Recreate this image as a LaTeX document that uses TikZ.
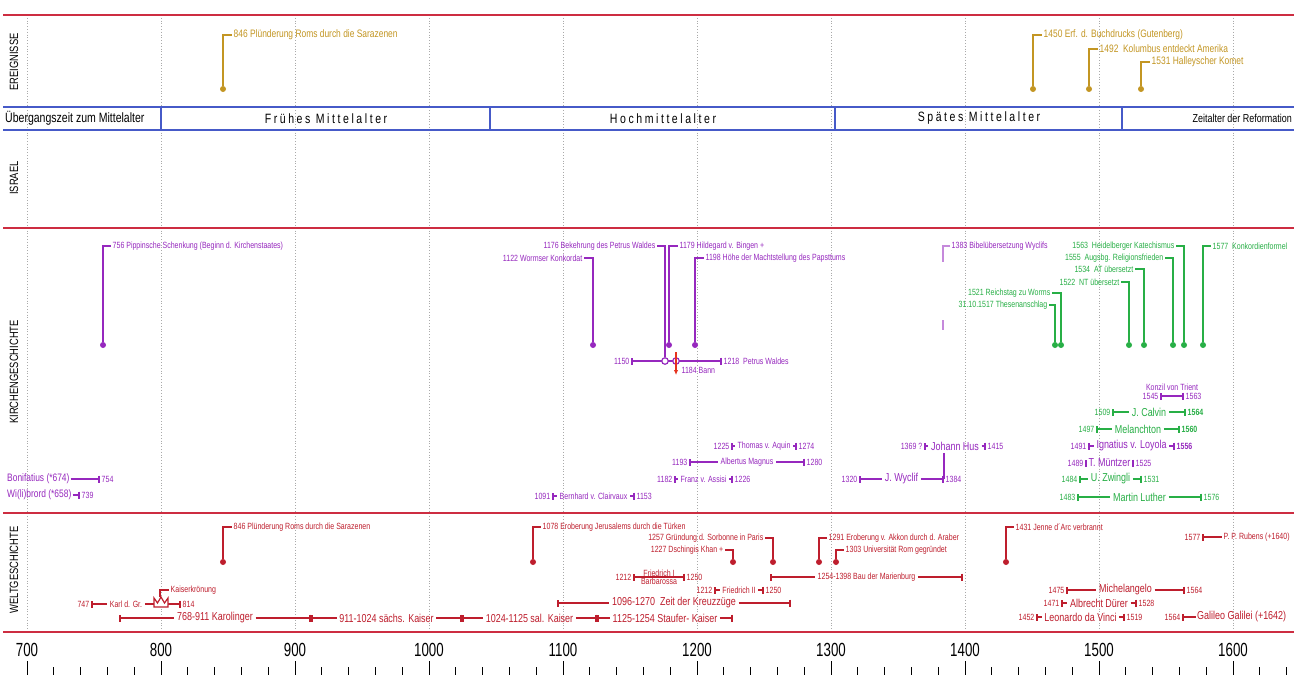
\documentclass[tikz,border=0pt]{standalone}
\usepackage{fontspec}
\setmainfont{Liberation Sans}[FakeStretch=0.78]
\newfontfamily\spacedfont{Liberation Sans}[FakeStretch=0.78, LetterSpace=19]
\newfontfamily\axisfamily{Liberation Sans}
\usetikzlibrary{arrows.meta,calc,positioning}

\definecolor{sepRed}{RGB}{205,45,65}
\definecolor{eraBlue}{RGB}{70,90,200}
\definecolor{gridGray}{RGB}{170,170,170}
\definecolor{eventGold}{RGB}{195,150,35}
\definecolor{churchPurple}{RGB}{150,40,190}
\definecolor{reformGreen}{RGB}{40,175,70}
\definecolor{worldRed}{RGB}{190,30,45}
\definecolor{bannRed}{RGB}{230,50,30}

\newcommand{\tinyfont}{\fontsize{9}{10}\selectfont}
\newcommand{\eventfont}{\fontsize{10.8}{12}\selectfont}
\newcommand{\namefont}{\fontsize{11.5}{13}\selectfont}
\newcommand{\erafont}{\fontsize{13.5}{15}\selectfont}
\newcommand{\sectfont}{\fontsize{12}{13}\selectfont}
\newcommand{\axisfont}{\axisfamily\fontsize{19}{19}\selectfont}

\tikzset{sepline/.style={sepRed, line width=1.5pt}}
\tikzset{eraline/.style={eraBlue, line width=1.5pt}}
\tikzset{gridline/.style={gridGray, dotted, line width=0.8pt}}
\tikzset{section/.style={rotate=90, font=\sectfont}}
\tikzset{era/.style={font=\erafont, inner sep=0pt}}
\tikzset{pin/.style={circle, fill, inner sep=0pt, minimum size=6pt}}
\tikzset{ring/.style={circle, fill=white, line width=1.2pt, inner sep=0pt, minimum size=6.5pt}}
\tikzset{stem/.style={line width=1.8pt}}
\tikzset{pintext/.style={font=\tinyfont, inner sep=1.5pt}}
\tikzset{yr/.style={font=\tinyfont, inner sep=1.5pt}}
\tikzset{who/.style={font=\namefont, inner sep=2.5pt}}
\tikzset{span/.style={line width=1.8pt}}
\tikzset{axisnum/.style={font=\axisfont, inner sep=0pt}}
\tikzset{axistick/.style={line width=0.8pt}}

% id, from x, to x, y, from year, to year, name, colour
\newcommand{\lifespan}[8]{%
  \coordinate (#1-a) at (#2,#4);
  \coordinate (#1-b) at (#3,#4);
  \node[who, #8] (#1) at ($(#1-a)!0.5!(#1-b)$) {#7};
  \draw[span, #8, {Bar[width=7pt]}-] (#1-a) -- (#1);
  \draw[span, #8, -{Bar[width=7pt]}] (#1) -- (#1-b);
  \node[yr, #8, anchor=east] (#1-from) at (#1-a) {#5};
  \node[yr, #8, anchor=west] (#1-to) at (#1-b) {#6};
}
% id, x, dot y, text x, text y, anchor, text, colour
\newcommand{\eventpin}[8]{%
  \node[pin, #8] (#1) at (#2,#3) {};
  \node[pintext, #8, anchor=#6] (#1-l) at (#4,#5) {#7};
  \draw[stem, #8] (#1) |- (#1-l);
}

\begin{document}
\begin{tikzpicture}[x=1pt, y=-1pt]
\useasboundingbox (0,0) rectangle (1308,675);
\fill[white] (0,0) rectangle (1308,675);

% Grid
\foreach \yr in {700,800,...,1600}{
  \pgfmathsetmacro{\gx}{1.34*\yr-911}
  \draw[gridline] (\gx,15) -- (\gx,632);
}

% Bands
\draw[sepline] (3,15) -- (1294,15);
\draw[sepline] (3,228) -- (1294,228);
\draw[sepline] (3,513) -- (1294,513);
\draw[sepline, line width=2.5pt] (3,632) -- (1294,632);
\draw[eraline] (3,107) -- (1294,107);
\draw[eraline] (3,130) -- (1294,130);
\foreach \ex in {161,490,835,1122} \draw[eraline] (\ex,107) -- (\ex,130);

\node[section] (ereignisse) at (14,62) {EREIGNISSE};
\node[section] (israel) at (14,178) {ISRAEL};
\node[section] (kirche) at (14,372) {KIRCHENGESCHICHTE};
\node[section] (welt) at (14,570) {WELTGESCHICHTE};

% Eras
\node[era, anchor=west] (uebergang) at (5,118.5) {Übergangszeit zum Mittelalter};
\node[era] (fruehes) at (326,118.5) {\spacedfont Frühes Mittelalter};
\node[era] (hoch) at (663,118.5) {\spacedfont Hochmittelalter};
\node[era] (spaetes) at (979,118.5) {\spacedfont Spätes Mittelalter};
\node[era, anchor=east, font=\namefont] (reformation) at (1292,118.5) {Zeitalter der Reformation};

% Axis
\foreach \yr in {700,800,...,1600}{
  \pgfmathsetmacro{\gx}{1.34*\yr-911}
  \node[axisnum] (ax\yr) at (\gx,650) {\scalebox{0.7}[1]{\yr}};
  \draw[axistick] (\gx,661) -- (\gx,675);
}
\foreach \yr in {720,740,...,1640}{
  \pgfmathsetmacro{\gx}{1.34*\yr-911}
  \draw[axistick] (\gx,667) -- (\gx,675);
}

% Ereignisse
\eventpin{e846}{223}{89}{232}{35}{west}{846 Plünderung Roms durch die Sarazenen}{eventGold, font=\eventfont}
\eventpin{e1450}{1033}{89}{1042}{35}{west}{1450 Erf. d. Buchdrucks (Gutenberg)}{eventGold, font=\eventfont}
\eventpin{e1492}{1089}{89}{1098}{49}{west}{1492~~Kolumbus entdeckt Amerika}{eventGold, font=\eventfont}
\eventpin{e1531}{1141}{89}{1150}{62}{west}{1531 Halleyscher Komet}{eventGold, font=\eventfont}

% Kirchengeschichte
\eventpin{k756}{103}{345}{111}{246}{west}{756 Pippinsche Schenkung (Beginn d. Kirchenstaates)}{churchPurple}
\eventpin{k1122}{593}{345}{584}{258}{east}{1122 Wormser Konkordat}{churchPurple}
\eventpin{k1179}{669}{345}{678}{246}{west}{1179 Hildegard v. Bingen +}{churchPurple}
\eventpin{k1198}{695}{345}{704}{258}{west}{1198 Höhe der Machtstellung des Papsttums}{churchPurple}

\coordinate (waldes-a) at (631,361);
\coordinate (waldes-b) at (722,361);
\draw[span, churchPurple, {Bar[width=7pt]}-{Bar[width=7pt]}] (waldes-a) -- (waldes-b);
\node[yr, churchPurple, anchor=east] (waldes-from) at (waldes-a) {1150};
\node[yr, churchPurple, anchor=west] (waldes-to) at (waldes-b) {1218~~Petrus Waldes};
\node[ring, draw=churchPurple] (waldes-conv) at (665,361) {};
\node[ring, draw=churchPurple] (waldes-bann) at (676,361) {};
\node[pintext, churchPurple, anchor=east] (k1176-l) at (657,246) {1176 Bekehrung des Petrus Waldes};
\draw[stem, churchPurple] (waldes-conv) |- (k1176-l);
\coordinate (bann-top) at (676,352);
\coordinate (bann-tip) at (676,375);
\draw[bannRed, line width=1.5pt, -{Latex[length=5pt,width=4.5pt]}] (bann-top) -- (bann-tip);
\node[pintext, churchPurple, anchor=west] (bann) at (680,370) {1184 Bann};

\node[pintext, churchPurple, anchor=west] (k1383-l) at (950,246) {1383 Bibelübersetzung Wyclifs};
\coordinate (k1383-m) at (943,262);
\coordinate (k1383-u) at (943,320);
\coordinate (k1383-v) at (943,330);
\draw[stem, churchPurple!55] (k1383-l.west) -| (k1383-m);
\draw[stem, churchPurple!55] (k1383-u) -- (k1383-v);

\eventpin{g1517}{1055}{345}{1049}{305}{east}{31.10.1517 Thesenanschlag}{reformGreen}
\eventpin{g1521}{1061}{345}{1052}{293}{east}{1521 Reichstag zu Worms}{reformGreen}
\eventpin{g1522}{1129}{345}{1121}{282}{east}{1522~~NT übersetzt}{reformGreen}
\eventpin{g1534}{1144}{345}{1135}{269}{east}{1534~~AT übersetzt}{reformGreen}
\eventpin{g1555}{1173}{345}{1165}{258}{east}{1555~~Augsbg. Religionsfrieden}{reformGreen}
\eventpin{g1563}{1184}{345}{1176}{246}{east}{1563~~Heidelberger Katechismus}{reformGreen}
\eventpin{g1577}{1203}{345}{1211}{246}{west}{1577~~Konkordienformel}{reformGreen}

\node[who, churchPurple, anchor=west, font=\eventfont, inner sep=1pt] (bonifatius) at (6,479) {Bonifatius (*674)};
\coordinate (bonifatius-b) at (100,479);
\draw[span, churchPurple, -{Bar[width=7pt]}] (bonifatius) -- (bonifatius-b);
\node[yr, churchPurple, anchor=west] (bonifatius-to) at (bonifatius-b) {754};
\node[who, churchPurple, anchor=west, font=\eventfont, inner sep=1pt] (willibrord) at (6,495) {Wi(li)brord (*658)};
\coordinate (willibrord-b) at (80,495);
\draw[span, churchPurple, -{Bar[width=7pt]}] (willibrord) -- (willibrord-b);
\node[yr, churchPurple, anchor=west] (willibrord-to) at (willibrord-b) {739};

\lifespan{aquin}{731}{797}{446}{1225}{1274}{Thomas v. Aquin}{churchPurple, font=\tinyfont}
\lifespan{albertus}{689}{805}{462}{1193}{1280}{Albertus Magnus}{churchPurple, font=\tinyfont}
\lifespan{franz}{674}{733}{479}{1182}{1226}{Franz v. Assisi}{churchPurple, font=\tinyfont}
\lifespan{bernhard}{552}{635}{496}{1091}{1153}{Bernhard v. Clairvaux}{churchPurple, font=\tinyfont}
\lifespan{wyclif}{859}{944}{479}{1320}{1384}{J. Wyclif}{churchPurple}
\lifespan{hus}{924}{986}{446}{1369 ?}{1415}{Johann Hus}{churchPurple}
\draw[span, churchPurple] (hus.south -| wyclif-b) -- (wyclif-b);

\coordinate (trient-a) at (1160,396);
\coordinate (trient-b) at (1184,396);
\coordinate (trient-m) at ($(trient-a)!0.5!(trient-b)$);
\draw[span, churchPurple, {Bar[width=7pt]}-{Bar[width=7pt]}] (trient-a) -- (trient-b);
\node[yr, churchPurple, anchor=east] (trient-from) at (trient-a) {1545};
\node[yr, churchPurple, anchor=west] (trient-to) at (trient-b) {1563};
\node[yr, churchPurple, inner sep=0.5pt, above=5pt of trient-m] (trient) {Konzil von Trient};

\lifespan{calvin}{1112}{1186}{412}{1509}{\textbf{1564}}{J. Calvin}{reformGreen}
\lifespan{melanchton}{1096}{1180}{429}{1497}{\textbf{1560}}{Melanchton}{reformGreen}
\lifespan{loyola}{1088}{1175}{446}{1491}{\textbf{1556}}{Ignatius v. Loyola}{churchPurple}
\lifespan{muentzer}{1085}{1134}{463}{1489}{1525}{T. Müntzer}{churchPurple}
\lifespan{zwingli}{1079}{1142}{479}{1484}{1531}{U. Zwingli}{reformGreen}
\lifespan{luther}{1077}{1202}{497}{1483}{1576}{Martin Luther}{reformGreen}

% Weltgeschichte
\eventpin{w846}{223}{562}{232}{527}{west}{846 Plünderung Roms durch die Sarazenen}{worldRed}
\eventpin{w1078}{533}{562}{541}{527}{west}{1078 Eroberung Jerusalems durch die Türken}{worldRed}
\eventpin{w1227}{733}{562}{725}{550}{east}{1227 Dschingis Khan +}{worldRed}
\eventpin{w1257}{773}{562}{765}{538}{east}{1257 Gründung d. Sorbonne in Paris}{worldRed}
\eventpin{w1291}{819}{562}{827}{538}{west}{1291 Eroberung v. Akkon durch d. Araber}{worldRed}
\eventpin{w1303}{836}{562}{844}{550}{west}{1303 Universität Rom gegründet}{worldRed}
\eventpin{w1431}{1006}{562}{1014}{527}{west}{1431 Jenne d´Arc verbrannt}{worldRed}

\coordinate (rubens-a) at (1202,537);
\node[yr, worldRed, anchor=west] (rubens) at (1222,537) {P. P. Rubens (+1640)};
\draw[span, worldRed, {Bar[width=7pt]}-] (rubens-a) -- (rubens);
\node[yr, worldRed, anchor=east] (rubens-from) at (rubens-a) {1577};

\coordinate (fried1-a) at (633,577);
\coordinate (fried1-b) at (685,577);
\coordinate (fried1-m) at ($(fried1-a)!0.5!(fried1-b)$);
\draw[span, worldRed, {Bar[width=7pt]}-{Bar[width=7pt]}] (fried1-a) -- (fried1-b);
\node[yr, worldRed, anchor=east] (fried1-from) at (fried1-a) {1212};
\node[yr, worldRed, anchor=west] (fried1-to) at (fried1-b) {1250};
\node[yr, worldRed, above=-1pt of fried1-m] (fried1) {Friedrich I};
\node[yr, worldRed, below=-1pt of fried1-m] (barbarossa) {Barbarossa};

\lifespan{marienburg}{770}{963}{577}{}{}{1254-1398 Bau der Marienburg}{worldRed, font=\tinyfont}
\lifespan{friedrich2}{714}{764}{590}{1212}{1250}{Friedrich II}{worldRed, font=\tinyfont}

\coordinate (karl-a) at (91,604);
\coordinate (karl-b) at (181,604);
\coordinate (crown-w) at (154,604);
\coordinate (crown-e) at (168,604);
\coordinate (crown-top) at (160,597);
\node[who, worldRed, font=\tinyfont] (karl) at (126,604) {Karl d. Gr.};
\draw[span, worldRed, {Bar[width=7pt]}-] (karl-a) -- (karl);
\draw[span, worldRed] (karl) -- (crown-w);
\draw[span, worldRed, -{Bar[width=7pt]}] (crown-e) -- (karl-b);
\draw[worldRed, line width=1.2pt, fill=white] (154,607) -- (154,598) -- (157.5,603) -- (161,597) -- (164.5,603) -- (168,598) -- (168,607) -- cycle;
\node[yr, worldRed, anchor=east] (karl-from) at (karl-a) {747};
\node[yr, worldRed, anchor=west] (karl-to) at (karl-b) {814};
\node[pintext, worldRed, anchor=west] (kroenung) at (169,590) {Kaiserkrönung};
\draw[worldRed, line width=1.2pt] (crown-top) |- (kroenung);

\lifespan{kreuz}{557}{791}{603}{}{}{1096-1270~~Zeit der Kreuzzüge}{worldRed}
\lifespan{karolinger}{119}{311}{618}{}{}{768-911 Karolinger}{worldRed}
\lifespan{saechs}{311}{462}{618}{}{}{911-1024 sächs. Kaiser}{worldRed}
\lifespan{salier}{462}{597}{618}{}{}{1024-1125 sal. Kaiser}{worldRed}
\lifespan{staufer}{597}{733}{618}{}{}{1125-1254 Staufer- Kaiser}{worldRed}

\lifespan{michelangelo}{1066}{1185}{590}{1475}{1564}{Michelangelo}{worldRed}
\lifespan{duerer}{1061}{1137}{603}{1471}{1528}{Albrecht Dürer}{worldRed}
\lifespan{leonardo}{1036}{1125}{617}{1452}{1519}{Leonardo da Vinci}{worldRed}
\coordinate (galilei-a) at (1182,617);
\node[who, worldRed, anchor=west, inner sep=1pt] (galilei) at (1196,617) {Galileo Galilei (+1642)};
\draw[span, worldRed, {Bar[width=7pt]}-] (galilei-a) -- (galilei);
\node[yr, worldRed, anchor=east] (galilei-from) at (galilei-a) {1564};

\end{tikzpicture}
\end{document}
